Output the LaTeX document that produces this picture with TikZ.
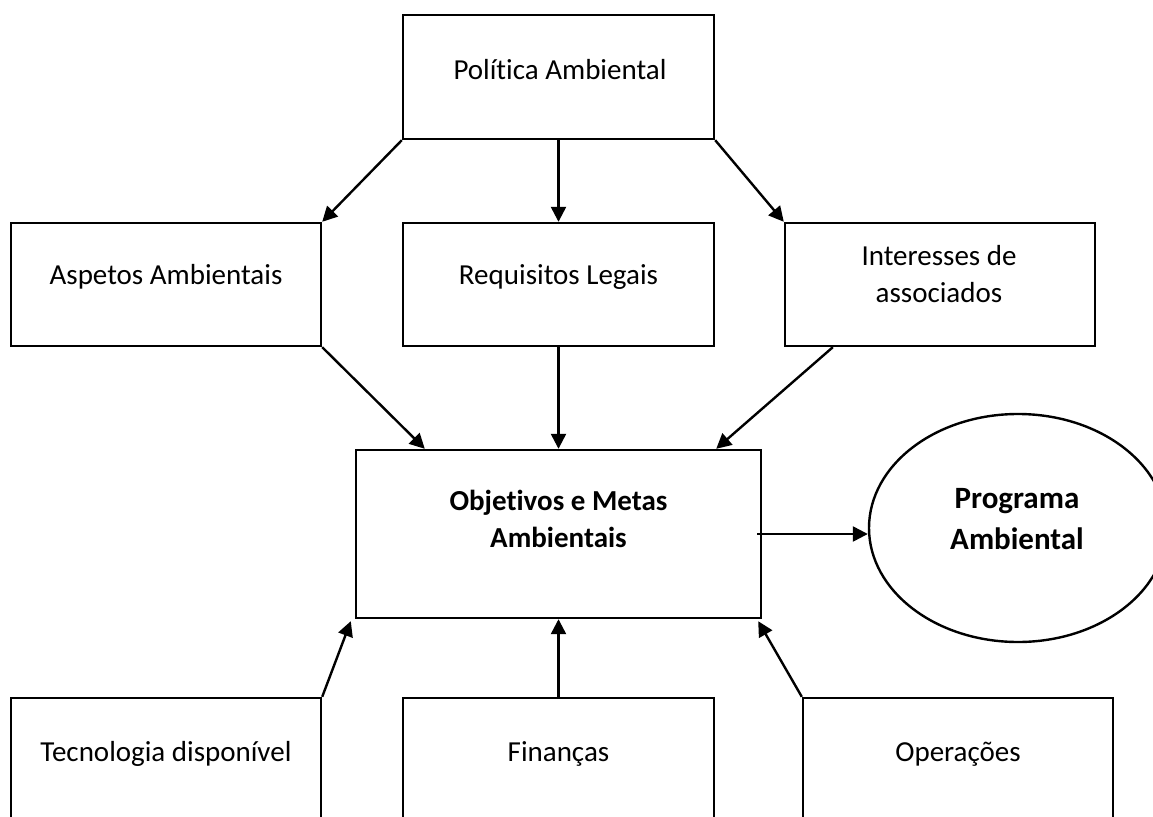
\documentclass[tikz,border=0pt]{standalone}
\usepackage{fontspec}
\setmainfont{Carlito}[Ligatures=NoCommon]
\usetikzlibrary{arrows.meta,shapes.geometric}
\def\upx{0.75pt}
\tikzset{
  box/.style={draw, line width=1.8pt, rectangle, inner sep=0pt},
  oval/.style={draw, line width=1.8pt, ellipse, inner sep=0pt},
  lbl/.style={inner sep=0pt, align=center, font=\fontsize{21.75}{27.75}\selectfont},
  blbl/.style={lbl, font=\bfseries\fontsize{21.75}{27.75}\selectfont},
  plbl/.style={lbl, font=\bfseries\fontsize{23.25}{30.75}\selectfont},
  conn/.style={line width=1.8pt, -{Triangle[length=11.25pt,width=11.25pt]}}
}
\begin{document}
\begin{tikzpicture}[x=0.75pt,y=-0.75pt]
\useasboundingbox (0,0) rectangle (1153,817);
% boxes
\node[box, minimum width=311*\upx, minimum height=124*\upx] (pol) at (558.5,77) {};
\node[box, minimum width=310*\upx, minimum height=123*\upx] (asp) at (166,284.5) {};
\node[box, minimum width=311*\upx, minimum height=123*\upx] (req) at (558.5,284.5) {};
\node[box, minimum width=310*\upx, minimum height=123*\upx] (int) at (940,284.5) {};
\node[box, minimum width=405*\upx, minimum height=168*\upx] (obj) at (558.5,534) {};
\node[oval, minimum width=298*\upx, minimum height=228*\upx] (prog) at (1018,528) {};
\node[box, minimum width=310*\upx, minimum height=252*\upx] (tec) at (166,824) {};
\node[box, minimum width=311*\upx, minimum height=252*\upx] (fin) at (558.5,824) {};
\node[box, minimum width=310*\upx, minimum height=252*\upx] (ope) at (958,824) {};
% texts
\node[lbl] (polT) at (560,70) {Política Ambiental};
\node[lbl] (aspT) at (166,277) {Aspetos Ambientais};
\node[lbl] (reqT) at (558.5,277) {Requisitos Legais};
\node[lbl] (intT) at (939,274) {Interesses de\\associados};
\node[blbl] (objT) at (558.5,519) {Objetivos e Metas\\Ambientais};
\node[plbl] (progT) at (1017,519) {Programa\\Ambiental};
\node[lbl] (tecT) at (166,754) {Tecnologia disponível};
\node[lbl] (finT) at (558.5,754) {Finanças};
\node[lbl] (opeT) at (958,754) {Operações};
% connectors
\draw[conn] (pol.south west) -- (asp.north east);
\draw[conn] (pol.south) -- (req.north);
\draw[conn] (pol.south east) -- (int.north west);
\draw[conn] (asp.south east) -- ([xshift=70*\upx]obj.north west);
\draw[conn] (req.south) -- (obj.north);
\draw[conn] ([xshift=49*\upx]int.south west) -- ([xshift=-46*\upx]obj.north east);
\draw[conn] ([xshift=-5*\upx]obj.east) -- (obj.east -| prog.west);
\draw[conn] (tec.north east) -- ([xshift=-4*\upx,yshift=-2*\upx]obj.south west);
\draw[conn] (fin.north) -- (obj.south);
\draw[conn] (ope.north west) -- ([xshift=-4*\upx,yshift=-2*\upx]obj.south east);
\end{tikzpicture}
\end{document}
